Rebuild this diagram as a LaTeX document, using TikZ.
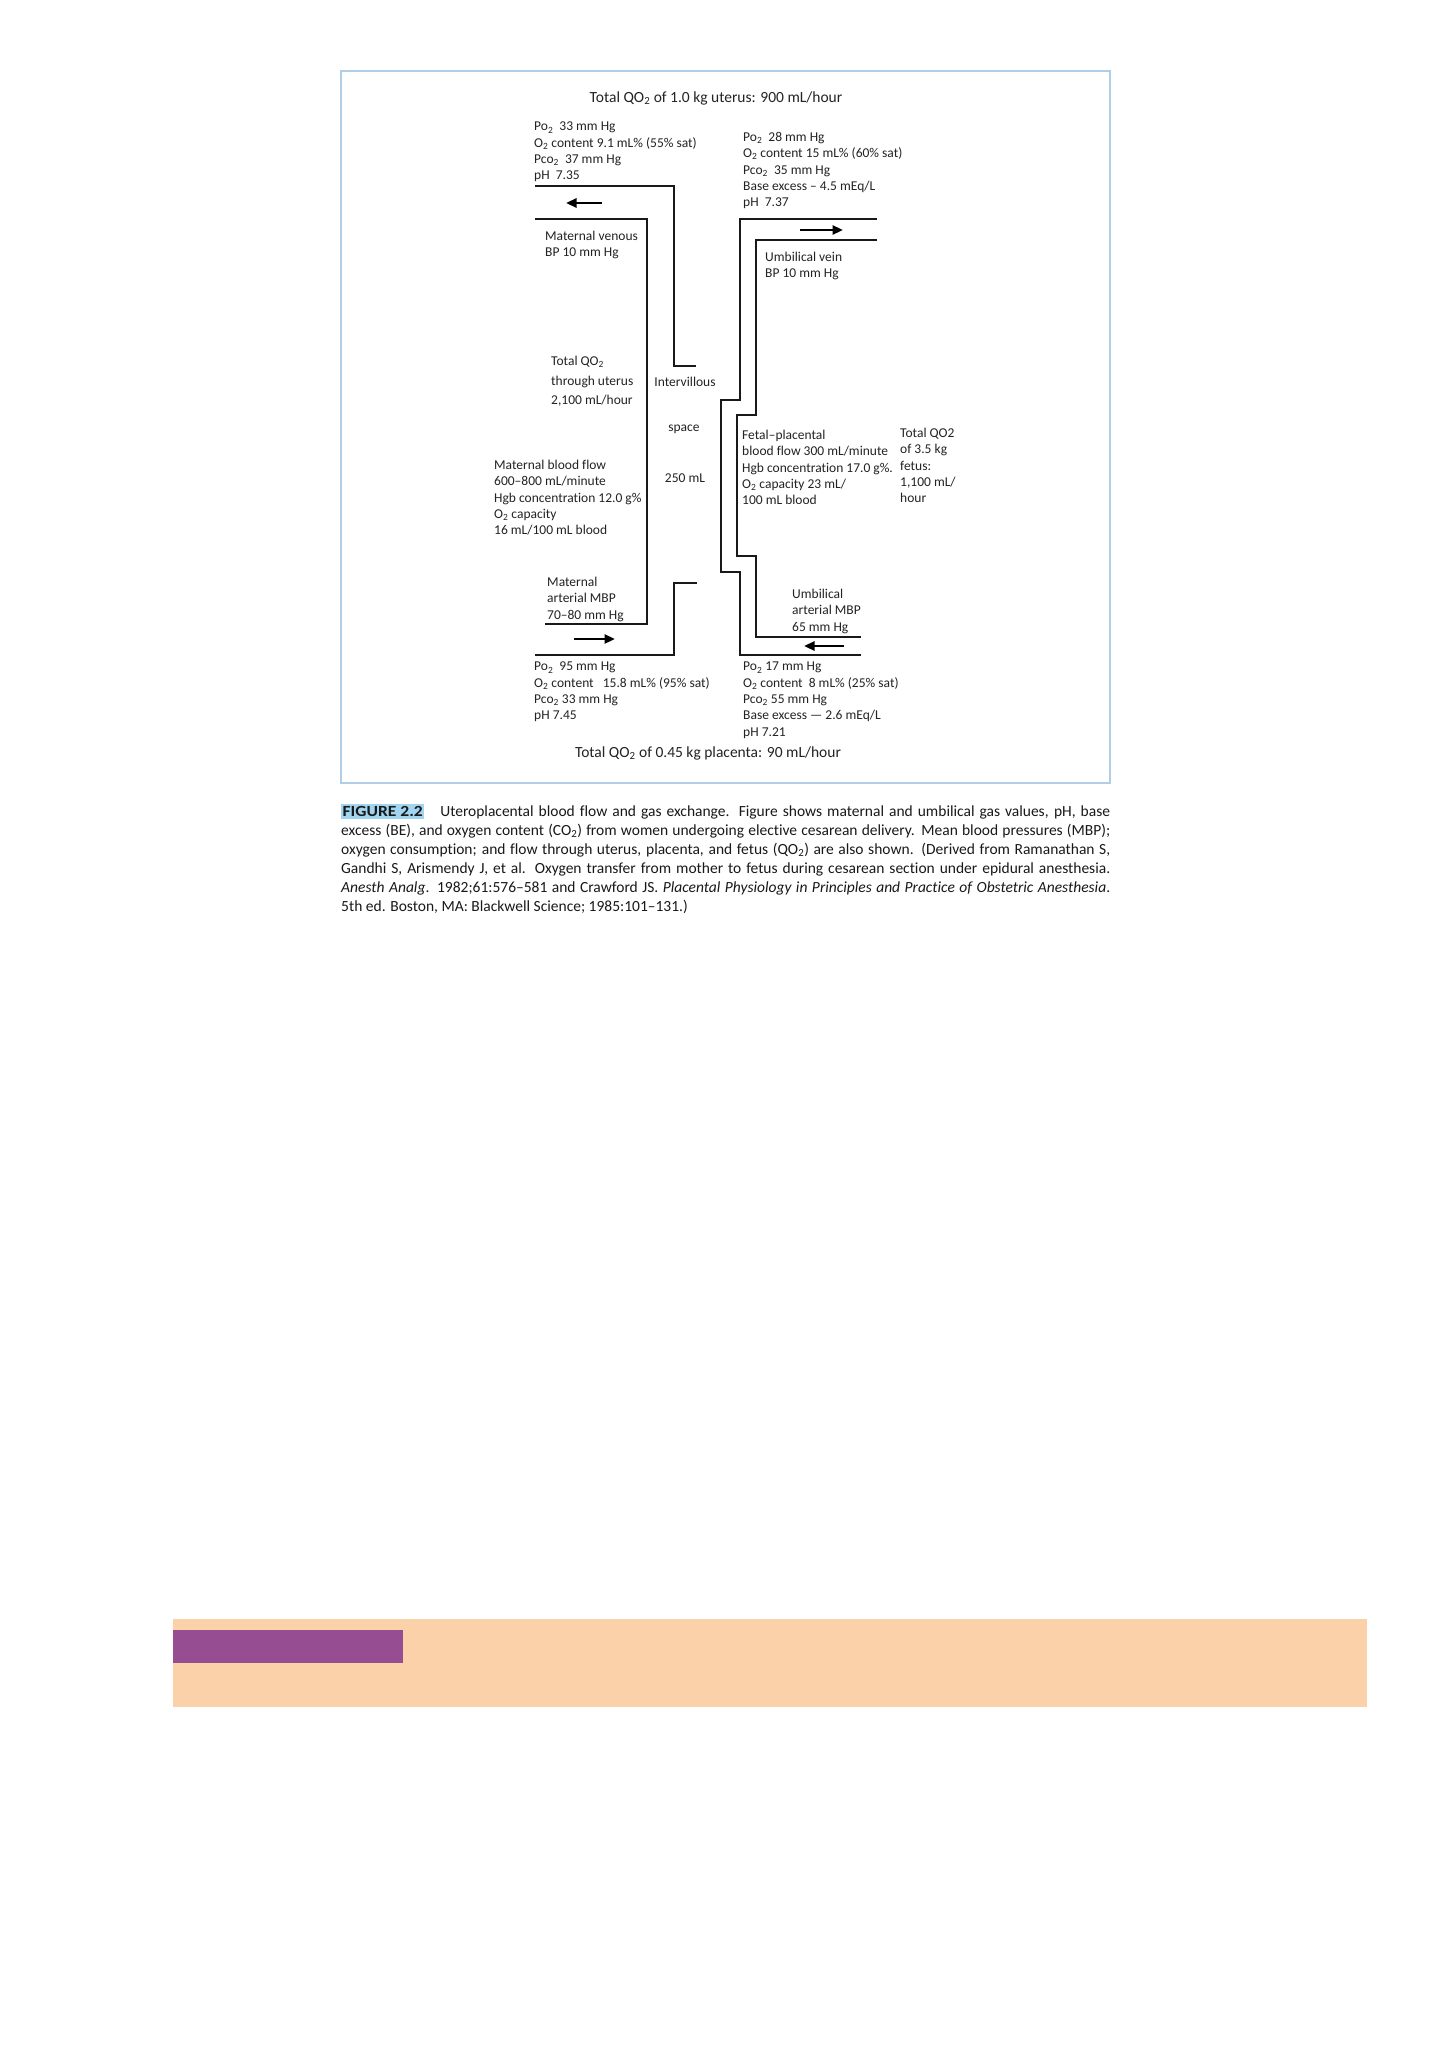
\documentclass[tikz,border=0pt]{standalone}
\usepackage{fontspec}
\usepackage{graphicx}
\setmainfont{Carlito}[Ligatures=NoCommon]
\usetikzlibrary{arrows.meta}
\definecolor{boxblue}{RGB}{176,206,232}
\definecolor{figblue}{RGB}{160,212,240}
\definecolor{peach}{RGB}{250,209,169}
\definecolor{plum}{RGB}{151,77,145}
\definecolor{txt}{RGB}{35,35,35}
\definecolor{captxt}{RGB}{25,25,25}
\newcommand{\sub}[1]{\textsubscript{#1}}
\begin{document}
\begin{tikzpicture}[x=1pt,y=-1pt,
  tube/.style={line width=2pt, line join=miter, draw=black!90},
  flow/.style={line width=2.6pt, draw=black, -{Triangle[length=10.5pt,width=9pt]}},
  lbl/.style={font=\fontsize{13.5}{16.3}\selectfont, text=txt, align=left, anchor=north west, inner sep=0pt},
  clbl/.style={font=\fontsize{13.5}{16.3}\selectfont, text=txt, anchor=center, inner sep=0pt},
  ttl/.style={font=\fontsize{15.5}{18}\selectfont, text=txt, anchor=center, inner sep=0pt},
  capline/.style={font=\fontsize{15.5}{19}\selectfont, text=captxt, anchor=base west, inner sep=0pt}
]
\fill[white] (0,0) rectangle (1448,2050);
\useasboundingbox (0,0) rectangle (1448,2050);

% frame
\draw[boxblue, line width=2pt] (341,71) rectangle (1110,783);

% titles
\node[ttl] (top) at (716,98) {Total QO\sub{2} of 1.0 kg uterus: 900 mL/hour};
\node[ttl] (bottom) at (708,753) {Total QO\sub{2} of 0.45 kg placenta: 90 mL/hour};

% maternal side tubes
\draw[tube] (535,186) -- (674,186) -- (674,366) -- (696,366);
\draw[tube] (535,219) -- (647,219) -- (647,624) -- (545,624);
\draw[tube] (535,655) -- (674,655) -- (674,583) -- (697,583);
% fetal side tubes
\draw[tube] (877,219) -- (740,219) -- (740,400) -- (721,400) -- (721,572) -- (740,572) -- (740,655) -- (861,655);
\draw[tube] (877,240) -- (756,240) -- (756,415) -- (737,415) -- (737,556) -- (756,556) -- (756,637) -- (861,637);

% flow arrows
\coordinate (mvS) at (602,203); \coordinate (mvE) at (566,203);
\coordinate (maS) at (574,639); \coordinate (maE) at (615,639);
\coordinate (uvS) at (800,230); \coordinate (uvE) at (843,230);
\coordinate (uaS) at (844,646); \coordinate (uaE) at (804,646);
\draw[flow] (mvS) -- (mvE);
\draw[flow] (maS) -- (maE);
\draw[flow] (uvS) -- (uvE);
\draw[flow] (uaS) -- (uaE);

% text blocks
\node[lbl] (tl) at (534,122) {Po\sub{2}\ \ 33 mm Hg\\O\sub{2} content 9.1 mL\% (55\% sat)\\Pco\sub{2}\ \ 37 mm Hg\\pH\ \ 7.35};
\node[lbl] (tr) at (743,132) {Po\sub{2}\ \ 28 mm Hg\\O\sub{2} content 15 mL\% (60\% sat)\\Pco\sub{2}\ \ 35 mm Hg\\Base excess – 4.5 mEq/L\\pH\ \ 7.37};
\node[lbl] (mv) at (545,231) {Maternal venous\\BP 10 mm Hg};
\node[lbl] (uv) at (765,252) {Umbilical vein\\BP 10 mm Hg};
\node[lbl, font=\fontsize{13.5}{19.5}\selectfont] (tq) at (551,356) {Total QO\sub{2}\\through uterus\\2,100 mL/hour};
\node[clbl] (iv) at (685,382) {Intervillous};
\node[clbl] (sp) at (684,429) {space};
\node[clbl] (vol) at (685,478) {250 mL};
\node[lbl] (mbf) at (494,460) {Maternal blood flow\\600–800 mL/minute\\Hgb concentration 12.0 g\%\\O\sub{2} capacity\\16 mL/100 mL blood};
\node[lbl] (fp) at (742,430) {Fetal–placental\\blood flow 300 mL/minute\\Hgb concentration 17.0 g\%.\\O\sub{2} capacity 23 mL/\\100 mL blood};
\node[lbl] (tqf) at (900,428) {Total QO2\\of 3.5 kg\\fetus:\\1,100 mL/\\hour};
\node[lbl] (ma) at (547,577) {Maternal\\arterial MBP\\70–80 mm Hg};
\node[lbl] (ua) at (792,589) {Umbilical\\arterial MBP\\65 mm Hg};
\node[lbl] (bl) at (534,662) {Po\sub{2}\ \ 95 mm Hg\\O\sub{2} content\ \ \ 15.8 mL\% (95\% sat)\\Pco\sub{2} 33 mm Hg\\pH 7.45};
\node[lbl] (br) at (743,662) {Po\sub{2} 17 mm Hg\\O\sub{2} content\ \ 8 mL\% (25\% sat)\\Pco\sub{2} 55 mm Hg\\Base excess — 2.6 mEq/L\\pH 7.21};

% caption
\node[capline] (c1) at (341,816) {\makebox[769pt][s]{{\setlength{\fboxsep}{1.5pt}\colorbox{figblue}{\rule[-1.5pt]{0pt}{12.5pt}\scalebox{1.13}[1]{\bfseries FIGURE 2.2}}}\hspace{16pt}Uteroplacental blood flow and gas exchange. Figure shows maternal and umbilical gas values, pH, base}};
\node[capline] (c2) at (341,835) {\makebox[769pt][s]{excess (BE), and oxygen content (CO\sub{2}) from women undergoing elective cesarean delivery. Mean blood pressures (MBP);}};
\node[capline] (c3) at (341,854) {\makebox[769pt][s]{oxygen consumption; and flow through uterus, placenta, and fetus (QO\sub{2}) are also shown. (Derived from Ramanathan S,}};
\node[capline] (c4) at (341,873) {\makebox[769pt][s]{Gandhi S, Arismendy J, et al. Oxygen transfer from mother to fetus during cesarean section under epidural anesthesia.}};
\node[capline] (c5) at (341,892) {\makebox[769pt][s]{\textit{Anesth Analg}. 1982;61:576–581 and Crawford JS. \textit{Placental Physiology in Principles and Practice of Obstetric Anesthesia}.}};
\node[capline] (c6) at (341,911) {5th ed. Boston, MA: Blackwell Science; 1985:101–131.)};

% bottom band
\fill[peach] (173,1619) rectangle (1367,1707);
\fill[plum] (173,1630) rectangle (403,1663);
\end{tikzpicture}
\end{document}
